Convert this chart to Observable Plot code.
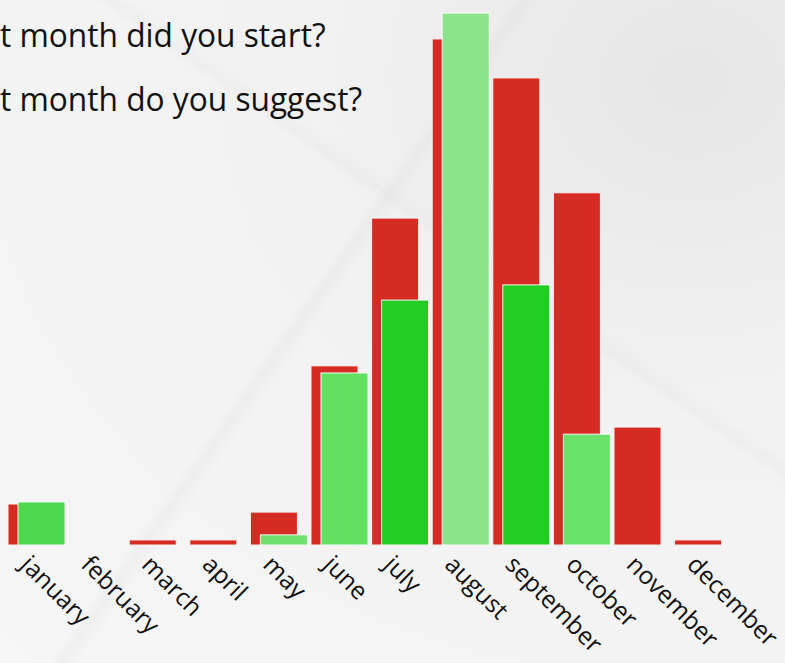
<!DOCTYPE html>
<html>
<head>
<meta charset="utf-8">
<script src="https://cdn.jsdelivr.net/npm/d3@7"></script>
<script src="https://cdn.jsdelivr.net/npm/@observablehq/plot@0.6"></script>
<style>
  html, body { margin: 0; padding: 0; }
  body {
    width: 785px; height: 663px; overflow: hidden; position: relative;
    background:
      linear-gradient(125deg, rgba(0,0,0,0) 41%, rgba(205,205,205,0.16) 42%, rgba(0,0,0,0) 43.5%),
      linear-gradient(35deg, rgba(0,0,0,0) 60%, rgba(205,205,205,0.13) 61%, rgba(0,0,0,0) 62.5%),
      radial-gradient(ellipse at 88% 12%, #e6e6e6 0%, #f2f2f2 40%, #f6f6f6 100%);
    font-family: "Open Sans", sans-serif;
  }
  #chart { position: absolute; left: 0; top: 0; }
  #legend { position: absolute; left: 0; top: 0; pointer-events: none; }
  #legend text { font-family: "Open Sans", sans-serif; font-size: 33px; fill: #111; }
</style>
</head>
<body>
<div id="chart"></div>
<svg id="legend" width="785" height="140">
  <text transform="translate(0,47) scale(0.96,1)">t month did you start?</text>
  <text transform="translate(0,111) scale(0.96,1)">t month do you suggest?</text>
</svg>
<script>
const months = ["january","february","march","april","may","june","july","august","september","october","november","december"];
const started   = [8.1, 0, 1, 1, 6.5, 35.4, 64.6, 100, 92.3, 69.6, 23.3, 1];
const suggested = [8.5, 0, 0, 0, 2, 34, 48.4, 105.1, 51.4, 21.9, 0, 0];
const greenShades = ["#4dd84d","#66e066","#66e066","#66e066","#6ee06e","#62e062","#22cc22","#8be38b","#22cc22","#6ae26a","#66e066","#66e066"];

const redData = months.map((m, i) => ({month: m, value: started[i]}));
const greenData = months.map((m, i) => ({month: m, value: suggested[i], color: greenShades[i]}));

const chart = Plot.plot({
  width: 785,
  height: 663,
  marginTop: 0,
  marginBottom: 118,
  marginLeft: 8,
  marginRight: 49.8,
  style: {background: "transparent", fontFamily: "'Open Sans', sans-serif"},
  x: {domain: months, padding: 0, round: false, label: null},
  y: {domain: [0, 107.7], axis: null},
  marks: [
    Plot.barY(redData.filter(d => d.value > 0), {x: "month", y: "value", fill: "#d62b23", stroke: "#fbeeee", strokeWidth: 1, insetLeft: 0, insetRight: 13.6}),
    Plot.barY(greenData.filter(d => d.value > 0), {x: "month", y: "value", fill: d => d.color, stroke: "#f4fbf4", strokeWidth: 1, insetLeft: 10, insetRight: 3.6}),
    Plot.axisX({tickSize: 0, tickRotate: 45, fontSize: 24.5, tickPadding: 15, dx: -14, textAnchor: "start", fill: "#111", label: null})
  ]
});
document.getElementById("chart").appendChild(chart);
</script>
</body>
</html>
